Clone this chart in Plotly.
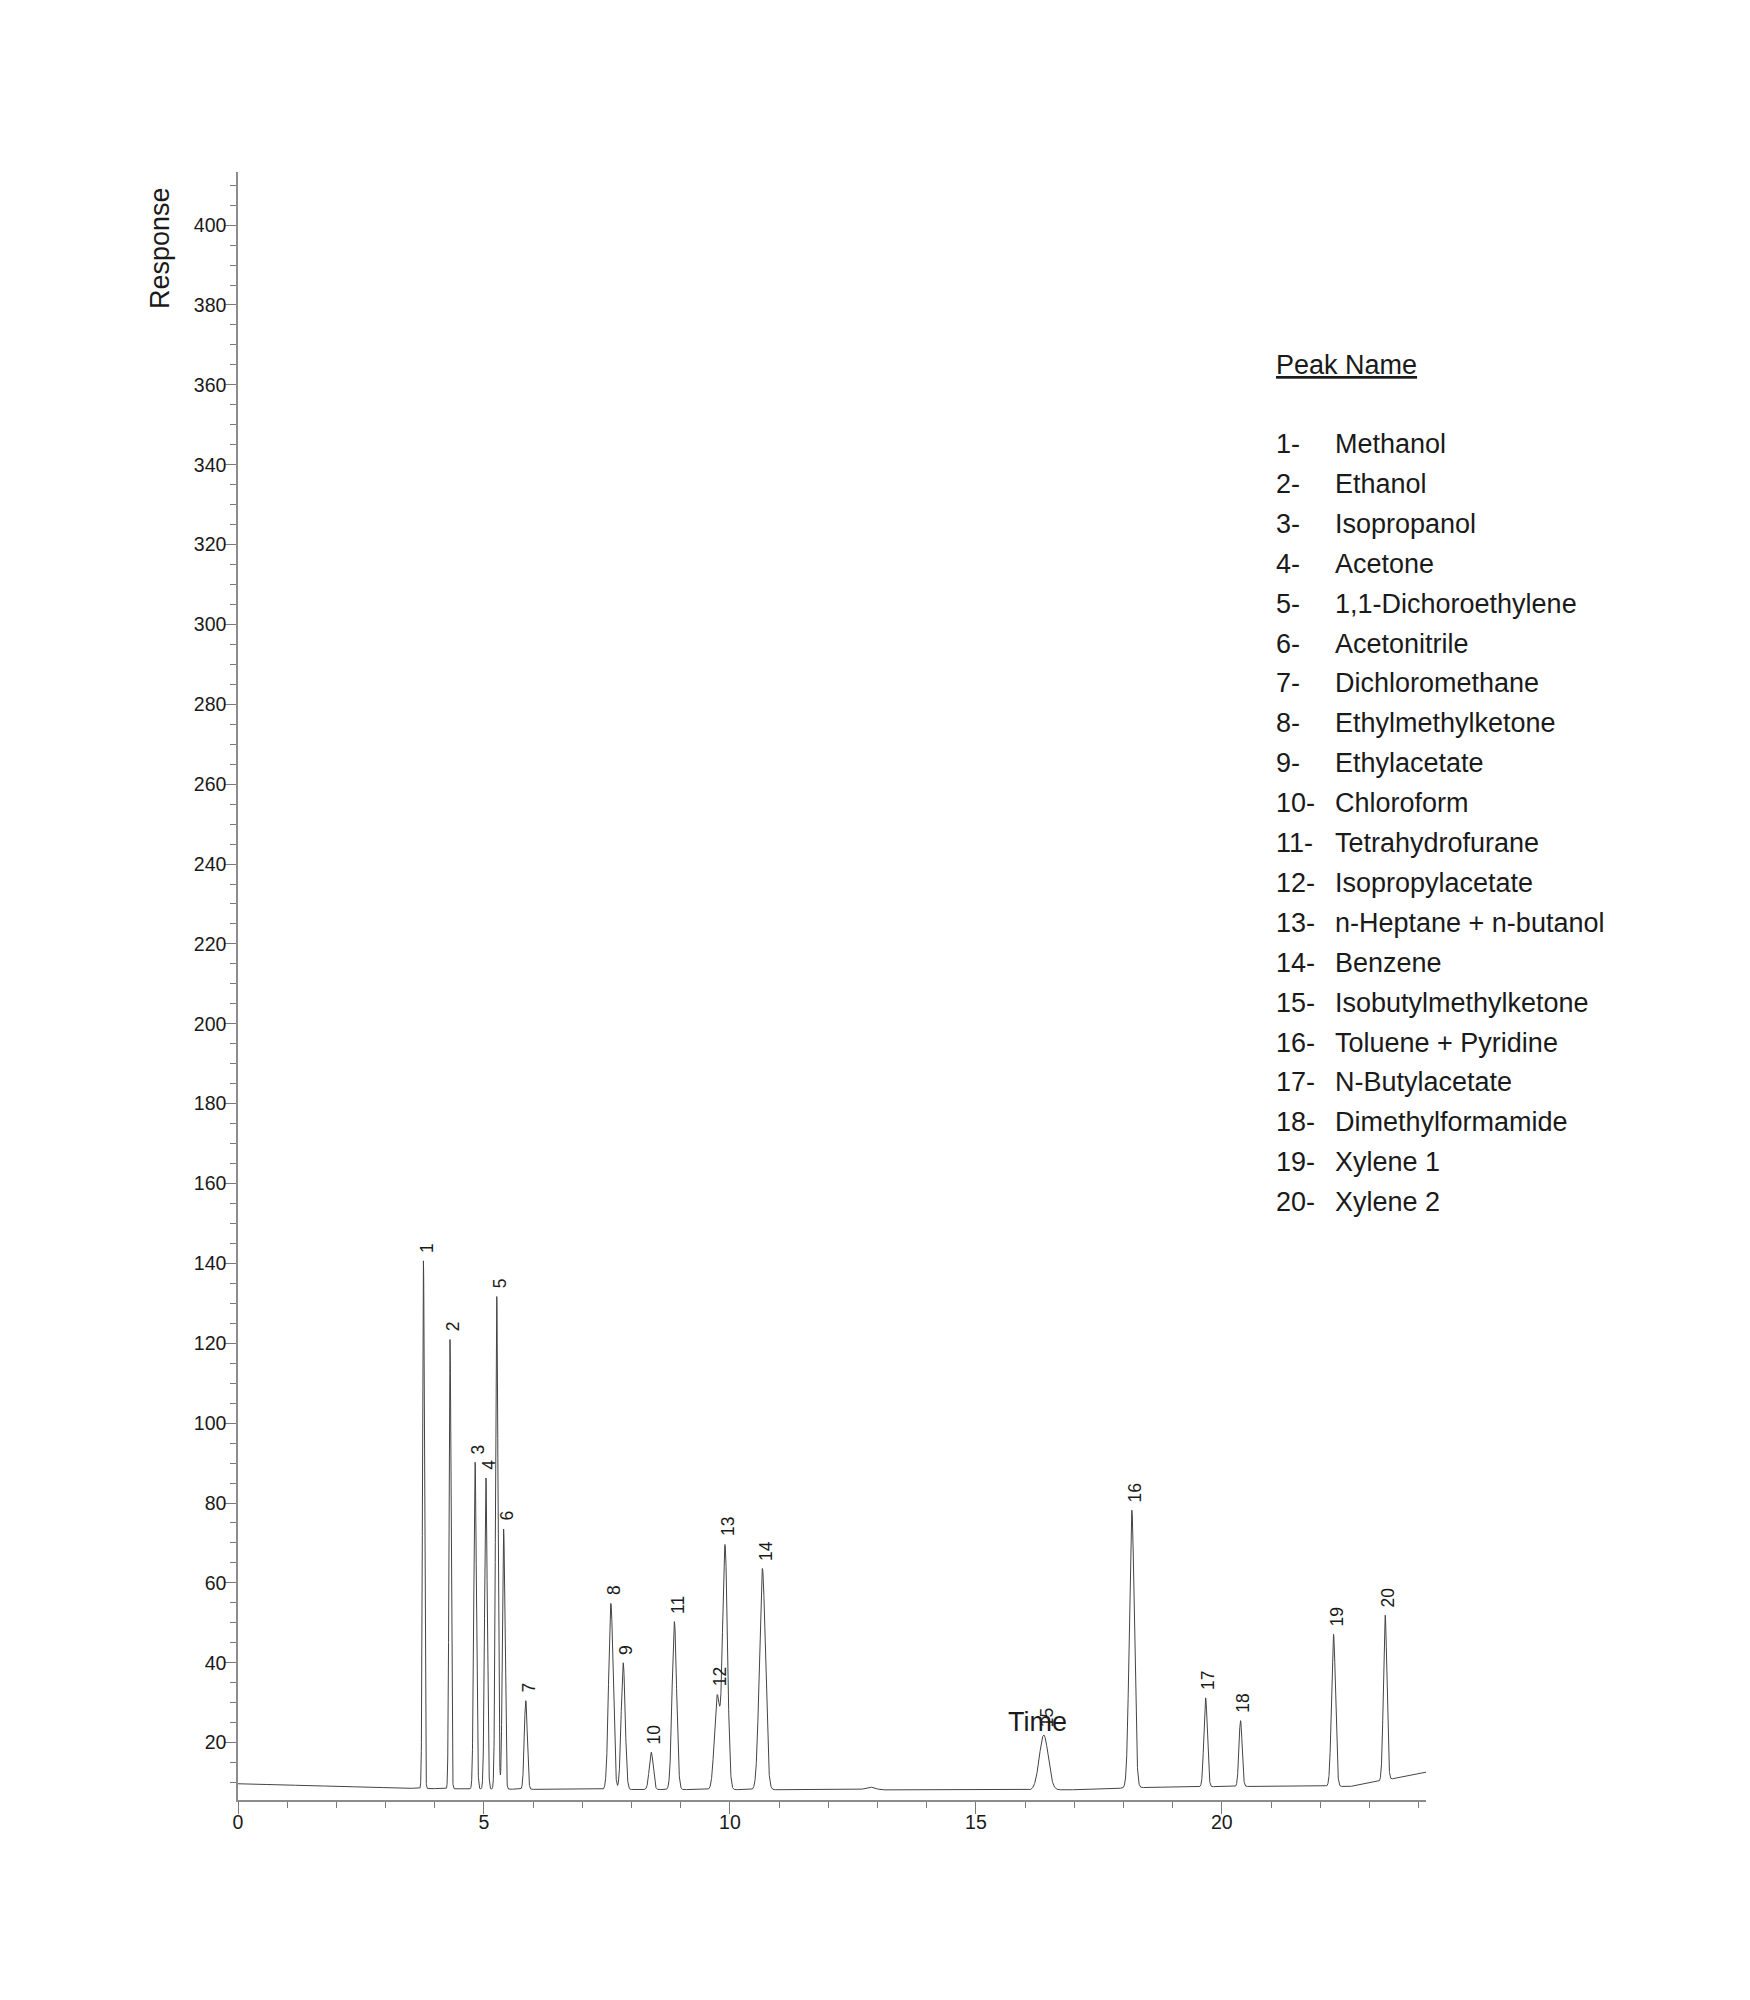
import numpy as np
import plotly.graph_objects as go

# ---------------- data ----------------
peak_numbers = [str(i) for i in range(1, 21)]
peak_names = [
    "Methanol", "Ethanol", "Isopropanol", "Acetone", "1,1-Dichoroethylene",
    "Acetonitrile", "Dichloromethane", "Ethylmethylketone", "Ethylacetate",
    "Chloroform", "Tetrahydrofurane", "Isopropylacetate", "n-Heptane + n-butanol",
    "Benzene", "Isobutylmethylketone", "Toluene + Pyridine", "N-Butylacetate",
    "Dimethylformamide", "Xylene 1", "Xylene 2",
]
retention_time = [3.77, 4.31, 4.82, 5.04, 5.26, 5.40, 5.85, 7.58, 7.83, 8.40,
                  8.87, 9.74, 9.90, 10.66, 16.38, 18.17, 19.67, 20.38, 22.27, 23.32]
apex_response = [140.7, 121.0, 90.2, 86.3, 131.7, 73.5, 30.5, 54.9, 40.0, 17.6,
                 50.3, 32.0, 69.6, 63.6, 21.9, 78.2, 31.2, 25.5, 47.1, 51.9]
peak_sigma = [0.019, 0.020, 0.026, 0.026, 0.025, 0.025, 0.030, 0.045, 0.040, 0.040,
              0.045, 0.055, 0.050, 0.060, 0.090, 0.050, 0.035, 0.032, 0.040, 0.035]

minor_time = [12.85]
minor_height = [0.7]
minor_sigma = [0.10]

baseline_time = [0.0, 3.7, 6.0, 16.0, 17.0, 18.5, 20.0, 22.0, 22.6, 23.15, 23.45, 24.15]
baseline_response = [9.7, 8.5, 8.3, 8.1, 8.2, 8.8, 9.0, 9.1, 9.0, 10.2, 10.9, 12.6]

x_range = [0, 24.15]
y_range = [5.63, 413.3]

# ---------------- build trace ----------------
t = np.linspace(x_range[0], x_range[1], 14000)
rt = np.array(retention_time)
sg = np.array(peak_sigma)
apex = np.array(apex_response)

base = np.interp(t, baseline_time, baseline_response)
minor = np.zeros_like(t)
for mt, mh, ms in zip(minor_time, minor_height, minor_sigma):
    minor += mh * np.exp(-0.5 * ((t - mt) / ms) ** 2)

base_apex = np.interp(rt, baseline_time, baseline_response)
M = np.exp(-0.5 * ((rt[:, None] - rt[None, :]) / sg[None, :]) ** 2)
amps = np.linalg.solve(M, apex - base_apex)

signal = base + minor
for a, c, s in zip(amps, rt, sg):
    signal += a * np.exp(-0.5 * ((t - c) / s) ** 2)

fig = go.Figure()
fig.add_trace(go.Scatter(x=t, y=signal, mode="lines",
                         line=dict(color="#444444", width=1),
                         hoverinfo="skip", showlegend=False))

# ---------------- layout ----------------
OFF = 8  # page body margin
L, T = 238 - OFF, 172 - OFF
PW, PH = 1188, 1628
R, B = 1750 - L - PW, 2000 - T - PH
FONT = "Liberation Sans, Arial, Helvetica, sans-serif"
TXT = "#1a1a1a"


def px(xp):
    return (xp - OFF - L) / PW


def py(yp):
    return 1 - (yp - OFF - T) / PH


fig.update_layout(
    width=1750, height=2000,
    margin=dict(l=L, r=R, t=T, b=B, autoexpand=False),
    paper_bgcolor="white", plot_bgcolor="white",
    font=dict(family=FONT, color=TXT),
    showlegend=False,
)
fig.update_xaxes(
    range=x_range, showgrid=False, zeroline=False,
    showline=True, linecolor="#8c8c8c", linewidth=1.5,
    ticks="outside", ticklen=12, tickwidth=1, tickcolor="#7a7a7a",
    tick0=0, dtick=5, tickfont=dict(size=19.5, color=TXT, family=FONT),
    ticklabelstandoff=-8,
    minor=dict(dtick=1, tick0=0, ticks="outside", ticklen=6, tickwidth=1, tickcolor="#7a7a7a"),
)
fig.update_yaxes(
    range=y_range, showgrid=False, zeroline=False,
    showline=True, linecolor="#8c8c8c", linewidth=1.5,
    ticks="outside", ticklen=12, tickwidth=1, tickcolor="#7a7a7a",
    tick0=0, dtick=20, tickfont=dict(size=19.5, color=TXT, family=FONT),
    ticklabelstandoff=-6,
    minor=dict(dtick=5, tick0=0, ticks="outside", ticklen=6, tickwidth=1, tickcolor="#7a7a7a"),
)

ann = []
# peak labels
for num, x0, y0 in zip(peak_numbers, retention_time, apex_response):
    ann.append(dict(x=x0, y=y0, xref="x", yref="y", text=num, showarrow=False,
                    textangle=-90, xanchor="center", yanchor="bottom",
                    xshift=3, yshift=6, font=dict(size=17.5, color=TXT, family=FONT)))

# axis titles
ann.append(dict(x=px(160), y=py(248), xref="paper", yref="paper", text="Response",
                showarrow=False, textangle=-90, xanchor="center", yanchor="middle",
                font=dict(size=27, color=TXT, family=FONT)))
ann.append(dict(x=px(1037), y=py(1722), xref="paper", yref="paper", text="Time",
                showarrow=False, xanchor="center", yanchor="middle",
                font=dict(size=27, color=TXT, family=FONT)))

# peak name table
ann.append(dict(x=px(1274), y=py(365), xref="paper", yref="paper", text="<u>Peak Name</u>",
                showarrow=False, xanchor="left", yanchor="middle",
                font=dict(size=27, color=TXT, family=FONT)))
for i, (num, name) in enumerate(zip(peak_numbers, peak_names)):
    yc = 444 + i * 39.9
    ann.append(dict(x=px(1274), y=py(yc), xref="paper", yref="paper", text=f"{num}-",
                    showarrow=False, xanchor="left", yanchor="middle",
                    font=dict(size=27, color=TXT, family=FONT)))
    ann.append(dict(x=px(1333), y=py(yc), xref="paper", yref="paper", text=name,
                    showarrow=False, xanchor="left", yanchor="middle",
                    font=dict(size=27, color=TXT, family=FONT)))

fig.update_layout(annotations=ann)
fig.write_html("out.html")
